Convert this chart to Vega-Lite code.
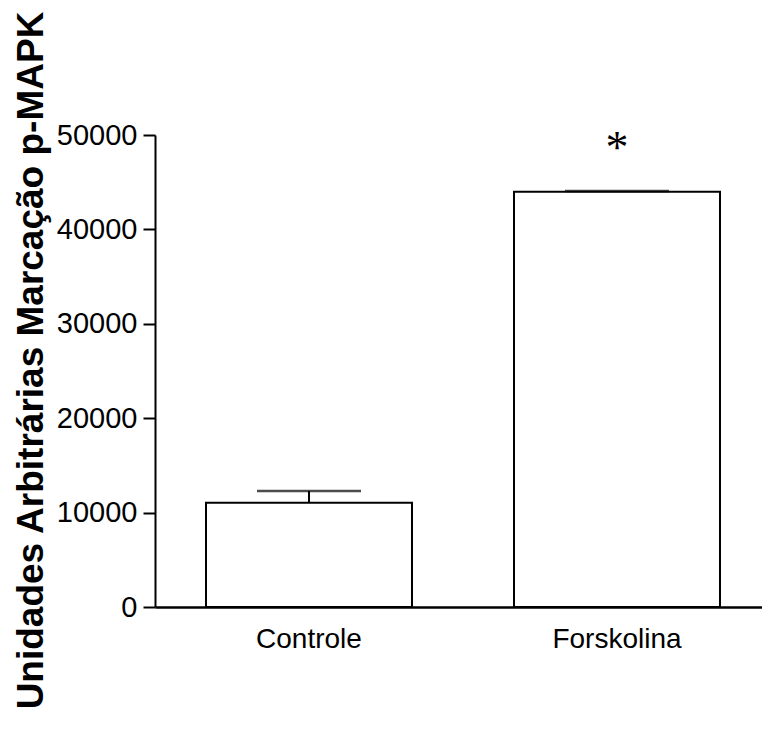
{
  "$schema": "https://vega.github.io/schema/vega-lite/v6.json",
  "autosize": "none",
  "width": 607,
  "height": 472,
  "padding": {"left": 155, "top": 135, "right": 0, "bottom": 133},
  "background": "white",
  "config": {"view": {"stroke": null}, "font": "Liberation Sans"},
  "data": {
    "values": [
      {"group": "Controle", "mean": 11050, "upper": 12290, "sig": ""},
      {"group": "Forskolina", "mean": 43990, "upper": 44060, "sig": "*"}
    ]
  },
  "encoding": {
    "x": {
      "field": "group",
      "type": "nominal",
      "sort": null,
      "scale": {"range": [0, 616], "paddingInner": 0.3312, "paddingOuter": 0.1656},
      "axis": {
        "title": null,
        "labelAngle": 0,
        "labelFont": "Liberation Sans",
        "labelFontSize": 28,
        "labelColor": "black",
        "labelPadding": 18,
        "ticks": false,
        "domainColor": "black",
        "domainWidth": 2.5
      }
    }
  },
  "layer": [
    {
      "mark": {"type": "bar", "fill": "white", "stroke": "black", "strokeWidth": 2},
      "encoding": {
        "y": {
          "field": "mean",
          "type": "quantitative",
          "scale": {"domain": [0, 50000], "nice": false},
          "axis": {
            "values": [0, 10000, 20000, 30000, 40000, 50000],
            "format": "d",
            "grid": false,
            "title": "Unidades Arbitrárias Marcação p-MAPK",
            "titleFont": "Liberation Sans",
            "titleFontWeight": "bold",
            "titleFontSize": 37,
            "titleColor": "black",
            "titleAngle": -90,
            "titleAlign": "center",
            "titleBaseline": "alphabetic",
            "titleX": -113,
            "titleY": 225,
            "labelFont": "Liberation Sans",
            "labelFontSize": 29,
            "labelColor": "black",
            "labelPadding": 6,
            "tickSize": 12,
            "tickWidth": 2,
            "tickColor": "black",
            "domainColor": "black",
            "domainWidth": 2
          }
        }
      }
    },
    {
      "mark": {"type": "rule", "stroke": "black", "strokeWidth": 2},
      "encoding": {
        "y": {"field": "mean", "type": "quantitative"},
        "y2": {"field": "upper"}
      }
    },
    {
      "mark": {"type": "tick", "color": "black", "size": 104, "thickness": 2.5, "orient": "horizontal"},
      "encoding": {
        "y": {"field": "upper", "type": "quantitative"}
      }
    },
    {
      "mark": {"type": "text", "font": "Liberation Serif", "fontSize": 46, "baseline": "alphabetic", "dy": -28, "color": "black"},
      "encoding": {
        "y": {"field": "upper", "type": "quantitative"},
        "text": {"field": "sig"}
      }
    }
  ]
}
